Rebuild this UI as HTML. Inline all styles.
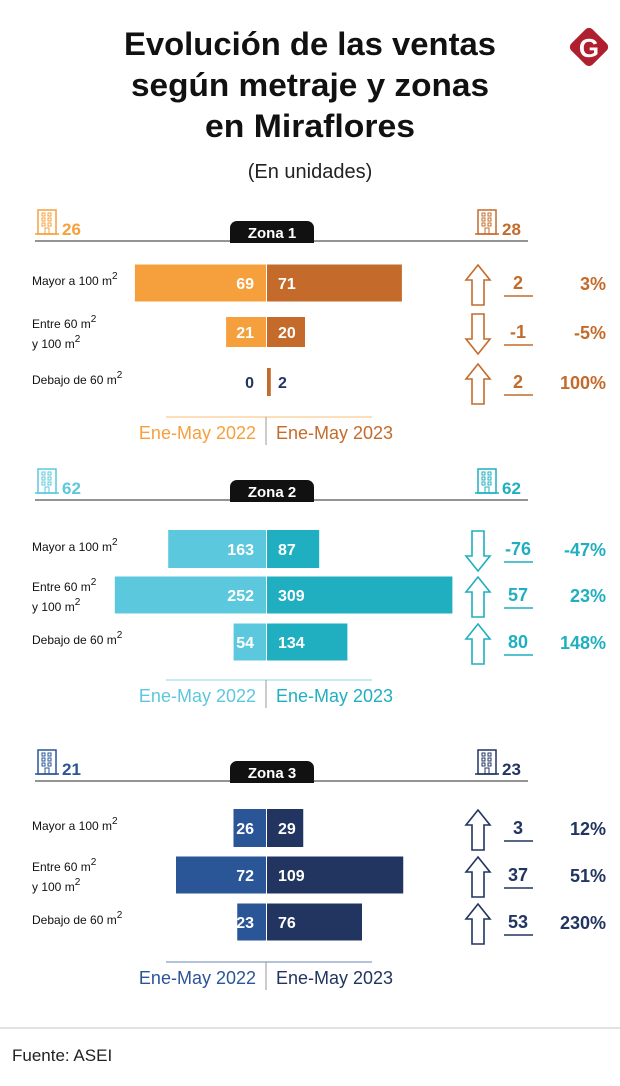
<!DOCTYPE html>
<html><head><meta charset="utf-8"><style>
body{margin:0;background:#fff;width:620px;height:1086px;overflow:hidden}
svg{display:block;font-family:"Liberation Sans",sans-serif}
</style></head><body>
<svg id="chart" width="620" height="1086" viewBox="0 0 620 1086" xmlns="http://www.w3.org/2000/svg">
<g font-weight="bold" font-size="32" text-anchor="middle" fill="#111">
<text x="310" y="55" textLength="372" lengthAdjust="spacingAndGlyphs">Evolución de las ventas</text>
<text x="310" y="96" textLength="358" lengthAdjust="spacingAndGlyphs">según metraje y zonas</text>
<text x="310" y="137" textLength="210" lengthAdjust="spacingAndGlyphs">en Miraflores</text>
</g>
<text x="310" y="178" text-anchor="middle" font-size="20" fill="#222">(En unidades)</text>
<g>
<rect x="574" y="32" width="30" height="30" rx="5" fill="#b01f2e" transform="rotate(45 589 47)"/>
<text x="589" y="57" text-anchor="middle" font-size="26" font-weight="bold" fill="#fff">G</text>
</g>
<line x1="0" y1="1028" x2="620" y2="1028" stroke="#e2e2e2" stroke-width="2"/>
<text x="12" y="1061" font-size="17" fill="#222">Fuente:  ASEI</text>
<g id="zones"></g>
</svg>
<script>
const zoneNames = ["Zona 1","Zona 2","Zona 3"];
const categories = ["Mayor a 100 m²","Entre 60 m² y 100 m²","Debajo de 60 m²"];
const totals2022 = [26,62,21];
const totals2023 = [28,62,23];
const values2022 = [[69,21,0],[163,252,54],[26,72,23]];
const values2023 = [[71,20,2],[87,309,134],[29,109,76]];
const changes = [[2,-1,2],[-76,57,80],[3,37,53]];
const pctList = [["3%","-5%","100%"],["-47%","23%","148%"],["12%","51%","230%"]];

const NS="http://www.w3.org/2000/svg";
const root=document.getElementById('zones');
const lightC=["#f6a03d","#5cc8dd","#2a5597"];
const darkC=["#c46b2b","#20afc1","#213560"];
const textC=["#c46b2b","#20afc1","#213560"];
const lineY=[241,500,781];
const rowOff=[[42,91,141],[49,95,142],[47,94,141]];
const barH=[[37,30,28],[38,37,37],[38,37,37]];
const scales=[1.9,0.6,1.25];
const cx=266;
function mk(tag,attrs,parent,txt){const e=document.createElementNS(NS,tag);for(const k in attrs)e.setAttribute(k,attrs[k]);if(txt!==undefined)e.textContent=txt;parent.appendChild(e);return e;}
function building(g,x,y,c){
  mk('rect',{x:x,y:y,width:18,height:24,fill:'none',stroke:c,'stroke-width':1.5},g);
  for(let r=0;r<3;r++)for(let k=0;k<2;k++)mk('rect',{x:x+4+k*6,y:y+3+r*5,width:3,height:3,fill:'none',stroke:c,'stroke-width':1},g);
  mk('rect',{x:x+7,y:y+18,width:4,height:6,fill:'none',stroke:c,'stroke-width':1},g);
  mk('line',{x1:x-3,y1:y+24,x2:x+21,y2:y+24,stroke:c,'stroke-width':1.5},g);
}
function arrow(g,x,cy,up,c){
  const w=24,h=40,top=cy-h/2,bot=cy+h/2,sh=6;
  let pts;
  if(up) pts=[[x+w/2,top],[x+w,top+15],[x+w/2+sh,top+15],[x+w/2+sh,bot],[x+w/2-sh,bot],[x+w/2-sh,top+15],[x,top+15]];
  else pts=[[x+w/2,bot],[x+w,bot-15],[x+w/2+sh,bot-15],[x+w/2+sh,top],[x+w/2-sh,top],[x+w/2-sh,bot-15],[x,bot-15]];
  mk('polygon',{points:pts.map(p=>p.join(',')).join(' '),fill:'none',stroke:c,'stroke-width':1.6},g);
}
function catLabel(g,x,y,txt){
  const t=mk('text',{x:x,y:y,'font-size':12,fill:'#111'},g);
  
  
  const parts=txt.split('²');
  parts.forEach((p,k)=>{
    mk('tspan',{},t,p);
    if(k<parts.length-1) mk('tspan',{dy:-6,'font-size':10},t,'2');
    if(k<parts.length-1 && parts[k+1]!=='') mk('tspan',{dy:6},t,'');
  });
}
zoneNames.forEach((zn,z)=>{
  const g=mk('g',{},root);
  
  
  const L=lineY[z];
  const hl=mk('line',{x1:35,y1:L,x2:528,y2:L,stroke:'#555','stroke-width':1.2},g);
  
  
  const tab=mk('rect',{x:230,y:L-20,width:84,height:22,rx:7,fill:'#111'},g);
  
  
  mk('rect',{x:230,y:L-8,width:84,height:10,fill:'#111'},g);
  const tt=mk('text',{x:272,y:L-3,'text-anchor':'middle','font-size':15,'font-weight':'bold',fill:'#fff'},g,zn);
  
  
  building(g,38,L-31,lightC[z]);
  const t1=mk('text',{x:62,y:L-6,'font-size':17,'font-weight':'bold',fill:lightC[z]},g,String(totals2022[z]));
  
  
  building(g,478,L-31,darkC[z]);
  const t2=mk('text',{x:502,y:L-6,'font-size':17,'font-weight':'bold',fill:darkC[z]},g,String(totals2023[z]));
  
  
  categories.forEach((cat,i)=>{
    const cy=L+rowOff[z][i], h=barH[z][i], s=scales[z];
    if(i===1){
      catLabel(g,32,cy-4,'Entre 60 m²');
      catLabel(g,32,cy+16,'y 100 m²');
    } else {
      catLabel(g,32,cy+2,cat);
    }
    const v1=values2022[z][i], v2=values2023[z][i];
    const w1=v1*s, w2=v2*s;
    const b1=mk('rect',{x:cx-w1,y:cy-h/2,width:w1,height:h,fill:lightC[z]},g);
    
    
    const b2=mk('rect',{x:cx+1,y:cy-h/2,width:w2,height:h,fill:darkC[z]},g);
    
    
    const inside1=w1>20;
    const l1=mk('text',{x:cx-12,y:cy+6,'text-anchor':'end','font-size':16,'font-weight':'bold',fill:inside1?'#fff':'#213560'},g,String(v1));
    
    
    const inside2=w2>20;
    const l2=mk('text',{x:cx+12,y:cy+6,'font-size':16,'font-weight':'bold',fill:inside2?'#fff':'#213560'},g,String(v2));
    
    
    const ch=changes[z][i];
    arrow(g,466,cy+2,ch>=0,textC[z]);
    const ct=mk('text',{x:518,y:cy+6,'text-anchor':'middle','font-size':18,'font-weight':'bold',fill:textC[z]},g,String(ch));
    
    
    mk('line',{x1:504,y1:cy+13,x2:533,y2:cy+13,stroke:textC[z],'stroke-width':1.5},g);
    const pt=mk('text',{x:606,y:cy+7,'text-anchor':'end','font-size':18,'font-weight':'bold',fill:textC[z]},g,pctList[z][i]);
    
    
  });
  const LY=L+[176,180,181][z];
  mk('line',{x1:166,y1:LY,x2:372,y2:LY,stroke:lightC[z],'stroke-width':1,opacity:0.7},g);
  mk('line',{x1:266,y1:LY,x2:266,y2:LY+28,stroke:'#999','stroke-width':1},g);
  const lg1=mk('text',{x:256,y:LY+22,'text-anchor':'end','font-size':18,fill:lightC[z]},g,'Ene-May 2022');
  
  
  const lg2=mk('text',{x:276,y:LY+22,'font-size':18,fill:darkC[z]},g,'Ene-May 2023');
  
  
});
</script>
</body></html>
